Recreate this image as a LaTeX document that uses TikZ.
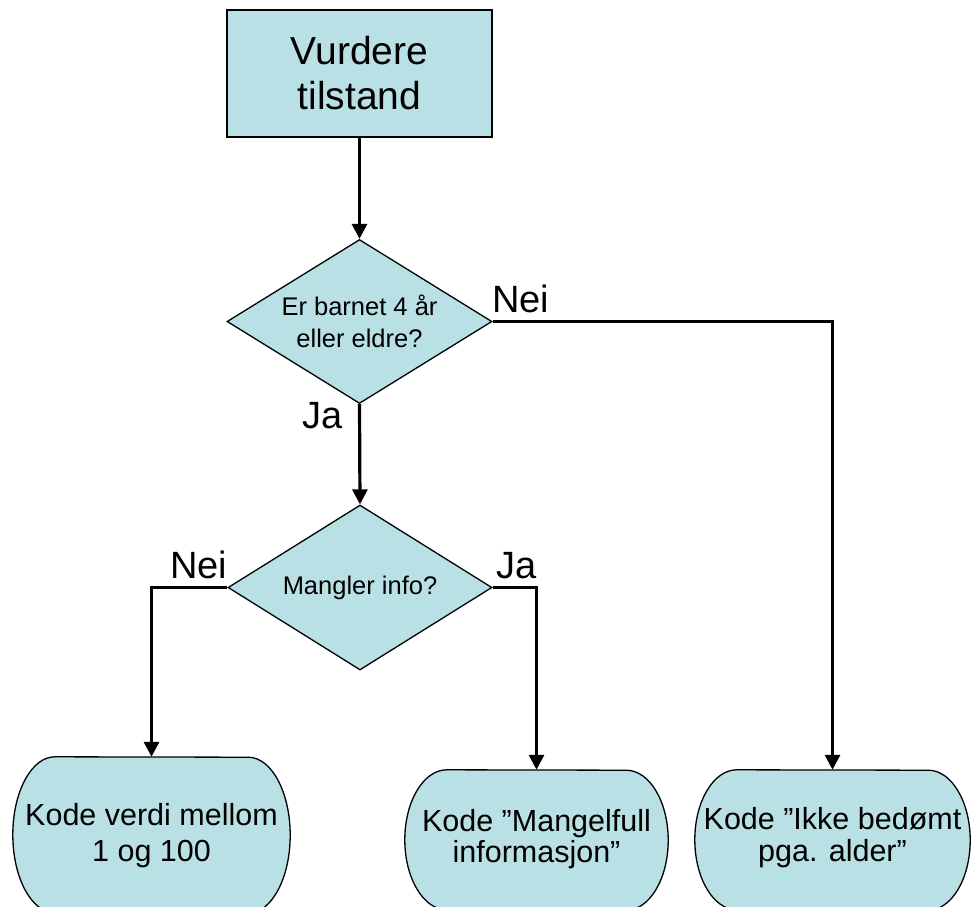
\documentclass[tikz,border=0pt]{standalone}
\usepackage{fontspec}
\setmainfont{Liberation Sans}
\usetikzlibrary{shapes.geometric,arrows.meta}
\definecolor{boxfill}{RGB}{185,224,228}
\tikzset{
  x=1pt,y=-1pt,
  conn/.style={line width=3.2pt,-{Triangle[width=15pt,length=15pt]}},
  shapeline/.style={draw=black,line width=1.3pt,fill=boxfill},
  rectbox/.style={shapeline,rectangle,inner sep=0pt,align=center,
    font=\fontsize{39}{45}\selectfont},
  decision/.style={shapeline,diamond,aspect=1.62,inner sep=0pt,align=center,
    font=\fontsize{25.5}{32}\selectfont},
  termframe/.style={rectangle,inner sep=0pt,draw=none},
  termtext/.style={inner sep=0pt,align=center},
  lbl/.style={inner sep=0pt,anchor=base west,font=\fontsize{38}{40}\selectfont},
}
\newcommand{\termoutline}[2]{%
  \draw[shapeline] ([xshift=42pt]#1.north west)
    arc[start angle=90,end angle=270,x radius=42pt,y radius=#2]
    -- ([xshift=-42pt]#1.south east)
    arc[start angle=-90,end angle=90,x radius=42pt,y radius=#2] -- cycle;}
\begin{document}
\begin{tikzpicture}
\path[use as bounding box,clip] (0,0) rectangle (974,907);

\node[rectbox,minimum width=265pt,minimum height=127pt] (top) at (359.5,73.5) {Vurdere\\tilstand};

\node[decision,minimum width=265pt,minimum height=164pt] (d1) at (359.5,321.5) {Er barnet 4 år\\eller eldre?};
\node[decision,minimum width=264pt,minimum height=165pt] (d2) at (360,587.5) {Mangler info?};

\node[termframe,minimum width=277pt,minimum height=156pt] (b1) at (151.5,835) {};
\node[termframe,minimum width=263pt,minimum height=140pt] (b2) at (536.5,840) {};
\node[termframe,minimum width=275pt,minimum height=140pt] (b3) at (832.5,840) {};
\termoutline{b1}{78pt}
\termoutline{b2}{70pt}
\termoutline{b3}{70pt}
\node[termtext,font=\fontsize{30.5}{36}\selectfont] (b1t) at (151.5,836) {Kode verdi mellom\\1 og 100};
\node[termtext,font=\fontsize{30.5}{31}\selectfont] (b2t) at (536.5,839) {Kode ”Mangelfull\\informasjon”};
\node[termtext,font=\fontsize{30.5}{32}\selectfont] (b3t) at (832.5,838) {Kode ”Ikke bedømt\\pga. alder”};

\draw[conn] (top.south) -- (d1.north);
\draw[conn] (d1.south) -- (d2.north);
\draw[conn] (d1.east) -| (b3.north);
\draw[conn] (d2.west) -| (b1.north);
\draw[conn] (d2.east) -| (b2.north);

\node[lbl] (l1) at (492,312) {Nei};
\node[lbl] (l2) at (302,428) {Ja};
\node[lbl] (l3) at (170,578) {Nei};
\node[lbl] (l4) at (496,578) {Ja};
\end{tikzpicture}
\end{document}
